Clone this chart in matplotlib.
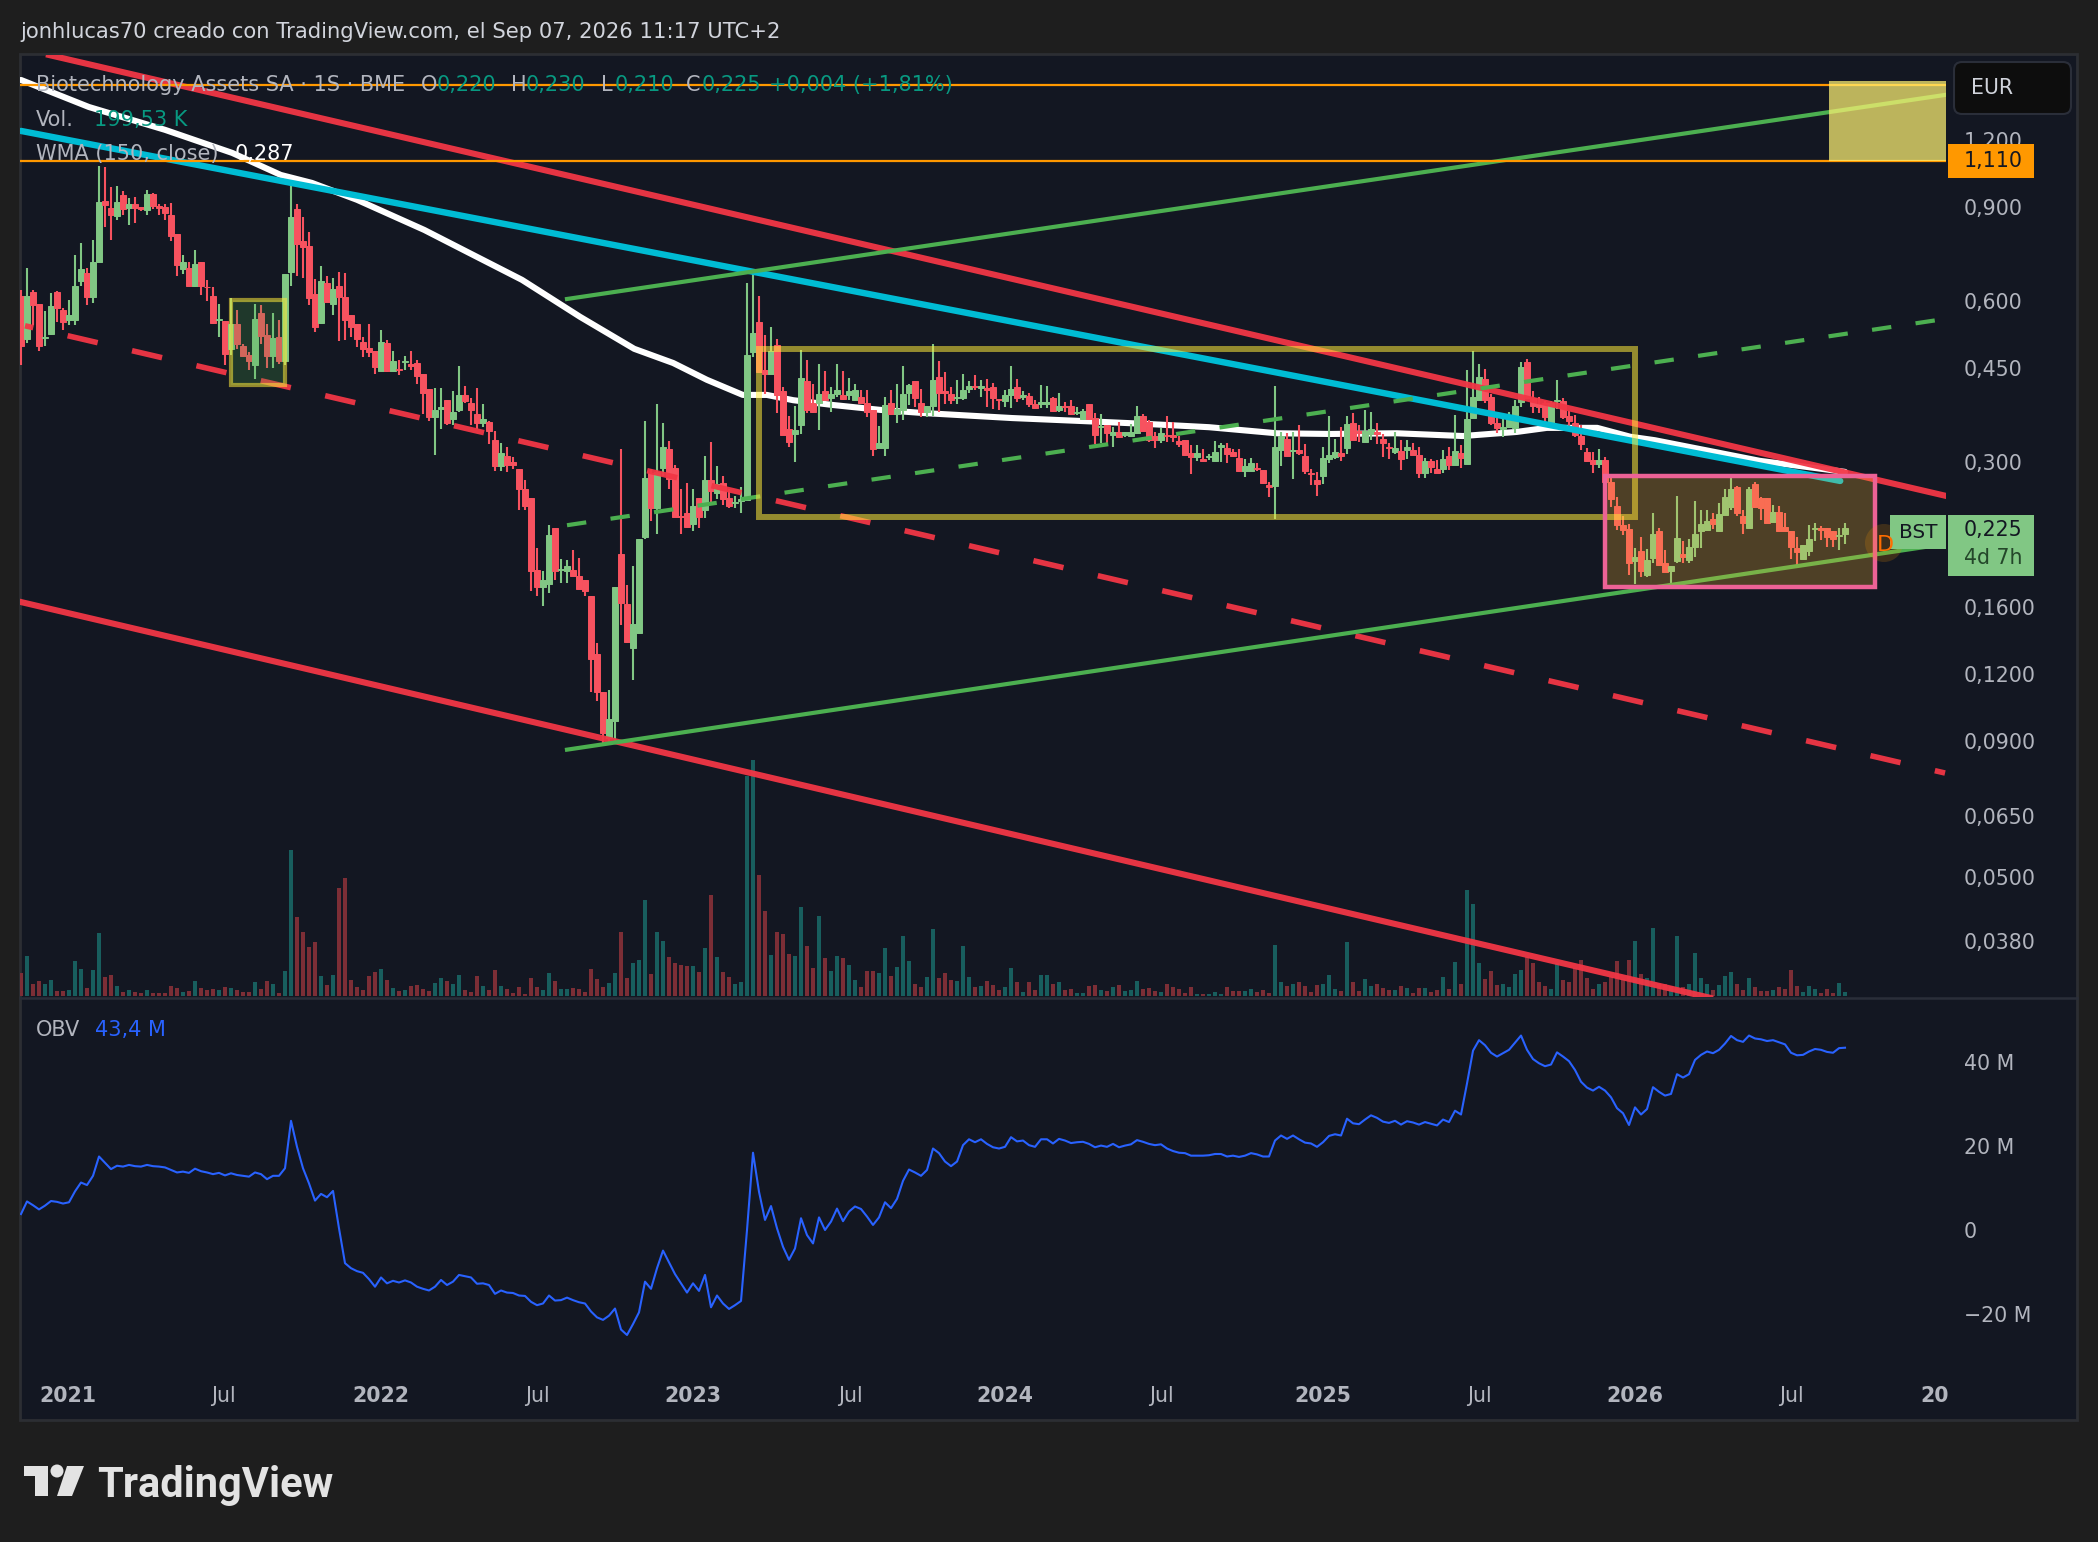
import matplotlib
matplotlib.use("Agg")
import matplotlib.pyplot as plt
import numpy as np
from matplotlib.patches import Rectangle, Polygon, Circle, FancyBboxPatch

plt.rcParams['font.family'] = ['DejaVu Sans']
plt.rcParams['lines.scale_dashes'] = False

#~~~~~~~~~~~~~~~~~~~~~~~~~~~~ WEEKLY CANDLES ~~~~~~~~~~~~~~~~~~~~~~~~~~~~
opens = [
    .612,.509,.623,.592,.512,.520,.623,.577,.553,.553,
    .655,.676,.611,.710,.924,.895,.865,.947,.895,.912,
    .898,.887,.952,.904,.898,.869,.801,.690,.692,.641,
    .710,.638,.612,.553,.551,.488,.544,.495,.476,.455,
    .569,.519,.474,.513,.464,.680,.890,.777,.760,.618,
    .546,.647,.592,.641,.611,.565,.544,.503,.489,.484,
    .444,.500,.444,.448,.461,.458,.460,.438,.410,.364,
    .376,.392,.361,.374,.400,.387,.368,.354,.356,.329,
    .294,.308,.299,.291,.266,.256,.188,.175,.177,.225,
    .188,.187,.188,.183,.180,.168,.131,.111,.091,.098,
    .201,.162,.134,.143,.217,.286,.246,.292,.317,.292,
    .237,.240,.229,.256,.244,.277,.262,.274,.256,.251,
    .253,.254,.482,.547,.445,.437,.496,.406,.345,.338,
    .351,.425,.386,.386,.406,.395,.402,.400,.399,.391,
    .396,.386,.375,.318,.318,.386,.369,.374,.404,.425,
    .387,.371,.382,.433,.406,.402,.394,.394,.410,.415,
    .412,.412,.414,.393,.390,.400,.414,.396,.398,.384,
    .384,.384,.394,.374,.381,.381,.370,.361,.385,.362,
    .348,.352,.336,.341,.337,.335,.340,.366,.356,.335,
    .329,.337,.337,.328,.329,.311,.306,.303,.306,.301,
    .320,.318,.313,.305,.288,.288,.292,.289,.271,.270,
    .315,.331,.314,.315,.307,.286,.277,.282,.304,.306,
    .311,.318,.355,.342,.326,.338,.341,.331,.320,.313,
    .314,.316,.316,.309,.286,.301,.291,.291,.307,.296,
    .312,.297,.362,.392,.429,.397,.355,.346,.348,.347,
    .388,.461,.395,.385,.387,.355,.389,.389,.365,.355,
    .335,.313,.302,.297,.302,.275,.248,.228,.224,.195,
    .204,.184,.198,.222,.194,.187,.195,.201,.196,.208,
    .222,.223,.234,.222,.238,.247,.269,.237,.225,.272,
    .256,.256,.231,.241,.226,.222,.207,.197,.204,.224,
    .225,.225,.222,.218,.220]
closes = [
    .493,.612,.589,.493,.514,.588,.583,.549,.565,.641,
    .688,.609,.710,.921,.908,.869,.919,.890,.910,.895,
    .891,.952,.904,.897,.878,.794,.701,.710,.641,.704,
    .641,.636,.546,.555,.478,.544,.499,.474,.464,.556,
    .515,.474,.511,.464,.675,.861,.767,.757,.608,.536,
    .655,.596,.632,.611,.553,.535,.509,.487,.482,.452,
    .503,.444,.464,.446,.464,.454,.434,.403,.364,.375,
    .380,.354,.371,.400,.390,.374,.354,.361,.342,.294,
    .312,.296,.296,.266,.248,.187,.175,.180,.219,.187,
    .189,.191,.183,.173,.172,.128,.111,.093,.099,.175,
    .163,.138,.149,.215,.279,.246,.287,.320,.278,.236,
    .236,.226,.248,.236,.277,.264,.272,.255,.248,.252,
    .255,.475,.523,.442,.437,.484,.400,.337,.326,.344,
    .430,.375,.372,.402,.391,.402,.408,.393,.406,.408,
    .387,.372,.317,.325,.383,.368,.377,.402,.418,.394,
    .371,.382,.426,.404,.403,.392,.396,.409,.416,.413,
    .416,.409,.395,.392,.400,.411,.394,.400,.384,.378,
    .388,.388,.373,.381,.379,.368,.372,.373,.361,.337,
    .350,.339,.341,.334,.341,.341,.365,.343,.330,.329,
    .340,.335,.334,.324,.309,.306,.311,.301,.308,.313,
    .322,.310,.308,.288,.294,.298,.290,.273,.269,.320,
    .335,.308,.316,.312,.288,.284,.272,.305,.309,.313,
    .308,.353,.330,.339,.343,.346,.338,.325,.318,.318,
    .304,.320,.309,.286,.301,.293,.286,.303,.296,.314,
    .305,.361,.397,.433,.392,.354,.347,.348,.362,.381,
    .452,.395,.381,.380,.363,.387,.392,.364,.358,.336,
    .323,.301,.297,.302,.275,.255,.228,.223,.194,.199,
    .187,.196,.220,.192,.186,.191,.216,.199,.208,.220,
    .229,.232,.229,.239,.257,.267,.240,.230,.267,.247,
    .246,.230,.241,.222,.222,.208,.203,.209,.215,.225,
    .223,.217,.215,.219,.225]
highs = [
    .630,.691,.630,.593,.575,.622,.626,.582,.603,.732,
    .770,.691,.781,1.073,1.068,.982,.985,.962,.934,.941,
    .901,.968,.957,.912,.912,.917,.801,.732,.711,.748,
    .710,.657,.636,.593,.551,.607,.578,.499,.481,.592,
    .589,.544,.569,.553,.675,1.011,.912,.861,.808,.660,
    .698,.668,.662,.680,.677,.565,.544,.513,.543,.484,
    .529,.508,.484,.466,.473,.484,.466,.438,.410,.412,
    .412,.392,.406,.454,.416,.394,.412,.385,.358,.343,
    .325,.319,.306,.291,.277,.256,.207,.187,.228,.225,
    .197,.196,.205,.198,.180,.168,.137,.111,.112,.175,
    .317,.176,.191,.215,.357,.291,.384,.354,.328,.296,
    .266,.274,.266,.256,.308,.326,.294,.282,.266,.259,
    .269,.647,.674,.613,.518,.535,.509,.413,.366,.381,
    .486,.465,.420,.458,.444,.413,.458,.444,.431,.420,
    .408,.408,.375,.350,.396,.408,.420,.454,.419,.425,
    .410,.382,.498,.463,.442,.413,.427,.438,.425,.436,
    .427,.428,.421,.393,.409,.454,.428,.406,.404,.392,
    .418,.415,.396,.404,.388,.392,.379,.377,.385,.370,
    .368,.351,.349,.356,.341,.353,.382,.368,.359,.341,
    .347,.366,.356,.335,.329,.322,.322,.317,.310,.328,
    .325,.325,.317,.317,.304,.305,.298,.289,.275,.416,
    .341,.339,.341,.351,.323,.291,.287,.319,.366,.331,
    .349,.366,.370,.351,.375,.372,.354,.338,.325,.341,
    .330,.330,.325,.319,.305,.303,.302,.316,.320,.367,
    .322,.445,.483,.458,.447,.401,.372,.367,.372,.392,
    .462,.468,.407,.397,.389,.389,.427,.395,.373,.367,
    .351,.318,.313,.317,.306,.281,.257,.237,.229,.207,
    .217,.206,.240,.225,.205,.191,.259,.213,.215,.253,
    .244,.243,.240,.251,.267,.282,.270,.244,.269,.275,
    .257,.256,.249,.248,.240,.222,.217,.209,.228,.230,
    .227,.225,.222,.225,.230]
lows = [
    .456,.500,.541,.483,.494,.519,.549,.530,.541,.541,
    .640,.589,.595,.710,.826,.781,.851,.869,.833,.839,
    .886,.869,.890,.869,.851,.777,.668,.675,.640,.636,
    .615,.601,.544,.514,.456,.476,.488,.472,.446,.428,
    .499,.449,.450,.458,.456,.641,.667,.661,.589,.525,
    .544,.596,.565,.505,.507,.513,.492,.472,.472,.438,
    .444,.441,.444,.436,.445,.445,.419,.368,.358,.309,
    .345,.352,.352,.372,.387,.351,.345,.348,.323,.288,
    .288,.287,.291,.244,.244,.172,.168,.161,.170,.180,
    .178,.178,.183,.173,.168,.111,.107,.089,.089,.090,
    .148,.137,.117,.143,.215,.232,.220,.282,.267,.236,
    .220,.226,.222,.225,.235,.249,.255,.249,.246,.246,
    .240,.254,.472,.440,.402,.437,.370,.337,.319,.300,
    .338,.370,.370,.344,.389,.372,.397,.391,.391,.389,
    .387,.364,.308,.318,.307,.367,.354,.359,.383,.380,
    .364,.364,.366,.371,.385,.384,.385,.392,.403,.408,
    .396,.379,.377,.375,.380,.378,.388,.392,.380,.377,
    .378,.378,.371,.371,.371,.367,.367,.360,.360,.323,
    .325,.325,.320,.332,.333,.333,.338,.342,.326,.318,
    .325,.327,.327,.320,.308,.284,.301,.300,.302,.301,
    .300,.298,.306,.287,.281,.288,.288,.272,.258,.234,
    .294,.307,.278,.309,.284,.271,.259,.272,.298,.303,
    .301,.310,.330,.327,.326,.329,.323,.306,.303,.310,
    .289,.304,.309,.280,.279,.286,.286,.286,.289,.296,
    .292,.297,.362,.391,.386,.352,.339,.333,.347,.340,
    .379,.393,.370,.370,.354,.354,.376,.361,.345,.334,
    .315,.299,.286,.292,.273,.247,.223,.219,.184,.177,
    .182,.182,.194,.191,.186,.177,.194,.194,.194,.199,
    .207,.223,.224,.222,.238,.243,.237,.220,.225,.246,
    .233,.230,.231,.222,.222,.197,.192,.197,.200,.213,
    .214,.208,.208,.205,.210]

# volume in thousands
volumes = [
    1150,2000,600,750,600,800,250,250,300,1750,
    1350,400,1300,3150,950,1050,500,200,300,200,
    150,300,150,150,150,500,400,200,250,750,
    400,300,350,300,450,400,300,200,200,700,
    350,750,600,150,1250,7300,3950,3200,2450,2700,
    1000,550,1050,5400,5900,800,450,300,1000,1200,
    1350,800,400,250,300,500,550,350,250,650,
    900,750,600,1050,300,200,1000,500,300,1300,
    500,350,150,450,100,900,450,300,1150,750,
    350,350,400,350,200,1350,850,450,650,1150,
    3200,900,1650,1800,4800,1100,3200,2750,1950,1650,
    1550,1500,1500,1200,2400,5050,1950,1200,950,600,
    700,11000,11800,6050,4250,2050,3200,3100,2100,2000,
    4450,2500,1400,4000,1900,1250,2000,1900,1550,800,
    450,1250,1250,1150,2400,1000,1450,3000,1750,600,
    450,950,3350,900,1150,800,750,2500,950,450,
    500,750,550,300,450,1400,700,200,700,300,
    1050,1050,600,700,300,350,150,150,500,550,
    300,250,450,550,250,300,750,350,400,250,
    200,600,450,350,150,450,100,100,100,200,
    100,450,250,250,250,350,200,300,150,2550,
    700,500,600,700,500,200,550,600,1050,350,
    250,2700,700,250,850,500,600,400,300,300,
    500,400,150,400,400,200,300,950,350,1700,
    600,5300,4600,1650,850,1250,550,600,450,1100,
    1300,1950,1650,700,500,350,1650,800,700,1380,
    1800,900,350,600,700,950,1750,850,1800,2750,
    1080,880,3400,600,600,500,3000,470,600,2150,
    900,600,300,550,1000,1200,600,300,900,450,
    250,250,300,450,350,1300,500,200,500,350,
    150,350,150,650,200]

# on balance volume, millions
obv = [
    3.8,6.8,5.9,4.9,5.8,6.9,6.7,6.3,6.6,9.2,
    11.3,10.7,12.9,17.5,16.0,14.5,15.3,15.1,15.5,15.2,
    15.1,15.5,15.2,15.1,14.9,14.3,13.7,13.9,13.6,14.6,
    14.0,13.7,13.3,13.6,13.0,13.5,13.1,12.9,12.7,13.7,
    13.3,12.1,12.9,12.9,14.7,26.0,19.8,14.7,11.1,7.0,
    8.6,7.8,9.3,0.4,-7.9,-9.1,-9.8,-10.2,-11.7,-13.5,
    -11.3,-12.7,-12.1,-12.5,-12.0,-12.5,-13.5,-14.0,-14.4,-13.5,
    -11.9,-13.1,-12.3,-10.7,-11.0,-11.3,-12.8,-12.7,-13.1,-15.2,
    -14.4,-14.9,-15.0,-15.6,-15.7,-17.1,-17.9,-17.5,-15.6,-16.8,
    -16.7,-16.1,-16.7,-17.2,-17.5,-19.4,-20.8,-21.4,-20.4,-18.7,
    -23.7,-25.0,-22.4,-19.6,-12.3,-14.0,-9.1,-4.9,-7.7,-10.5,
    -12.7,-14.9,-12.7,-14.5,-10.7,-18.4,-15.6,-17.5,-18.8,-17.9,
    -16.9,0.0,18.4,9.1,2.4,5.7,0.4,-4.0,-7.1,-4.4,
    2.8,-1.2,-3.2,3.0,0.0,2.0,5.1,2.1,4.4,5.6,
    5.0,3.2,1.2,3.0,6.6,5.2,7.4,11.7,14.4,13.7,
    12.9,14.3,19.4,18.3,16.3,15.2,16.3,20.2,21.6,20.9,
    21.6,20.5,19.7,19.4,19.8,22.1,21.1,21.3,20.2,19.8,
    21.6,21.6,20.6,21.7,21.3,20.7,20.9,21.0,20.5,19.7,
    20.1,19.8,20.5,19.7,20.1,20.4,21.4,21.0,20.5,20.2,
    20.4,19.4,18.8,18.4,18.3,17.7,17.7,17.7,17.8,18.1,
    18.1,17.5,17.7,17.4,17.7,18.3,18.0,17.5,17.5,21.3,
    22.5,21.7,22.5,21.6,20.8,20.6,19.8,20.9,22.4,22.8,
    22.5,26.5,25.4,25.2,26.3,27.3,26.7,25.8,25.5,26.0,
    25.1,25.9,25.6,25.1,25.7,25.3,24.9,26.3,25.7,28.4,
    27.5,34.9,42.7,45.2,44.0,42.2,41.3,42.1,42.9,44.6,
    46.3,42.9,40.7,39.7,39.0,39.4,42.3,41.3,40.2,38.1,
    35.3,33.9,33.2,34.1,33.2,31.6,29.0,27.8,25.0,29.2,
    27.5,28.8,34.0,32.9,32.0,32.4,37.1,36.3,37.1,40.5,
    41.7,42.5,42.1,42.9,44.4,46.2,45.2,44.8,46.3,45.6,
    45.4,45.0,45.2,44.7,44.2,42.2,41.6,41.7,42.5,43.1,
    42.9,42.4,42.2,43.3,43.4]

# WMA (150) read at the bends of the curve
wma_bars = [0,11.3,24,35.2,43.3,48.5,56,67.2,74.7,83.5,93.2,102.2,108.7,114.3,120.3,124.3,
            128.7,135.3,143.2,150.3,165.2,177.8,187.5,198,209.3,218.2,229.3,240.3,249.3,
            254.3,262.7,268.2,272.3,289.8,304]
wma_vals = [1.556,1.385,1.255,1.136,1.033,.998,.928,.815,.738,.657,.560,.488,.459,.427,.400,.400,
            .391,.383,.375,.370,.362,.357,.353,.348,.339,.338,.339,.335,.341,
            .347,.347,.334,.329,.301,.287]

# ticks
price_ticks = [1.2,.9,.6,.45,.3,.16,.12,.09,.065,.05,.038]
price_labels = ['1,200','0,900','0,600','0,450','0,300','0,1600','0,1200','0,0900','0,0650','0,0500','0,0380']
obv_ticks = [40,20,0,-20]
obv_labels = ['40 M','20 M','0','−20 M']
time_ticks = [7.83,33.7,60,86,112,138.2,164,190,217,243,269,295,319]
time_labels = ['2021','Jul','2022','Jul','2023','Jul','2024','Jul','2025','Jul','2026','Jul','20']

# drawn lines: (bars), (prices)
red_upper = ([4.67,320.67],[1.733,.259])
red_lower = ([0,281.5],[.1637,.0297])
red_mid = ([.67,320.67],[.539,.0783])
blue_line = ([0,303.2],[1.249,.276])
green_upper = ([91,320.7],[.605,1.459])
green_lower = ([91,320.7],[.0866,.2103])
green_mid = ([91,319.2],[.228,.552])
level_top = 1.522
level_low = 1.098

BG = '#1e1e1e'
PANE = '#131722'
BORDER = '#2c2e33'
UP = '#81c784'
DOWN = '#f7525f'
VOL_UP = '#185e5e'
VOL_DOWN = '#7c2e36'
TXT = '#b2b5be'
TEAL = '#089981'
RED_LINE = '#f23645'
GREEN_LINE = '#4caf50'
W, H = 2098, 1542


def px_axes(left, top, width, height, **kw):
    return fig.add_axes([left/W, 1-(top+height)/H, width/W, height/H], **kw)


fig = plt.figure(figsize=(W/100, H/100), dpi=100, facecolor=BG)

# background pane
back = px_axes(0, 0, W, H, zorder=0)
back.set_xlim(0, W)
back.set_ylim(H, 0)
back.axis('off')
back.add_patch(Rectangle((20, 54), 2057, 1366, facecolor=PANE, edgecolor=BORDER, lw=2))

x = np.arange(len(opens))
xlim = (-0.167, 320.83)
opens, closes, highs, lows = map(np.array, (opens, closes, highs, lows))
rising = closes >= opens

# volume sits under the price pane
ax_vol = px_axes(20, 55, 1926, 942, zorder=1)
ax_vol.patch.set_visible(False)
ax_vol.bar(x, volumes, width=.66, color=np.where(rising, VOL_UP, VOL_DOWN), linewidth=0)
ax_vol.set_xlim(xlim)
ax_vol.set_ylim(-50, 47050)
ax_vol.axis('off')

ax = px_axes(20, 55, 1926, 942, zorder=2)
ax.patch.set_visible(False)
ax.set_yscale('log')
ax.set_xlim(xlim)
ax.set_ylim(.0298, 1.733)

ax.plot(wma_bars, wma_vals, color='white', lw=4.4, zorder=2, solid_capstyle='round', solid_joinstyle='round')

colors = np.where(rising, UP, DOWN)
ax.vlines(x, lows, highs, colors=colors, lw=1.5, zorder=3)
ax.bar(x, np.abs(closes-opens), bottom=np.minimum(opens, closes), width=.85,
       color=colors, edgecolor=colors, lw=.7, zorder=3)

# trend lines
ax.plot(*red_upper, color=RED_LINE, lw=4.4, zorder=4, alpha=.95)
ax.plot(*red_lower, color=RED_LINE, lw=4.4, zorder=4, alpha=.95)
ax.plot(*red_mid, color=RED_LINE, lw=4.0, zorder=4, alpha=.95, linestyle=(16.1, (22.2, 25.4)), dash_capstyle='butt')
ax.plot(*blue_line, color='#00bcd4', lw=4.6, zorder=4, solid_capstyle='round')
ax.plot(*green_upper, color=GREEN_LINE, lw=3.0, zorder=4)
ax.plot(*green_lower, color=GREEN_LINE, lw=3.0, zorder=4)
ax.plot(*green_mid, color=GREEN_LINE, lw=3.0, zorder=4, linestyle=(0, (14, 17.67)), dash_capstyle='butt')
ax.plot(xlim, [level_top]*2, color='#ff9800', lw=1.6, zorder=4)
ax.plot(xlim, [level_low]*2, color='#ff9800', lw=1.6, zorder=4)

# boxes
ax.add_patch(Rectangle((301.33, 1.098), 19.5, .452, facecolor=(1, .95, .45), alpha=.72, lw=0, zorder=5))
ax.add_patch(Rectangle((123, .2362), 146, .4876-.2362, fill=False, edgecolor=(1, .92, .23, .55), lw=4.3, zorder=5))
ax.add_patch(Rectangle((35, .417), 9, .603-.417, facecolor=(.3, .69, .31, .22), edgecolor=(1, .92, .23, .55), lw=3, zorder=5))
ax.add_patch(Rectangle((264, .1746), 45, .2825-.1746, facecolor=(1, .745, .196, .25), edgecolor='#ec6296', lw=3.2, zorder=5))

ax.yaxis.tick_right()
ax.set_yticks(price_ticks, price_labels)
ax.minorticks_off()
ax.tick_params(axis='y', length=0, pad=13, labelsize=14.8, labelcolor=TXT, which='both')
ax.set_xticks([])
for s in ax.spines.values():
    s.set_visible(False)

# OBV pane, its bottom strip holds the time scale
ax2 = px_axes(20, 998, 1926, 422, zorder=2)
ax2.patch.set_visible(False)
ax2.plot(x, obv, color='#2962ff', lw=1.5)
ax2.set_xlim(xlim)
ax2.set_ylim(-45.24, 55.24)
ax2.yaxis.tick_right()
ax2.set_yticks(obv_ticks, obv_labels)
ax2.set_xticks(time_ticks, time_labels)
ax2.tick_params(axis='y', length=0, pad=13, labelsize=14.8, labelcolor=TXT)
ax2.tick_params(axis='x', length=0, pad=-24.4, labelsize=14.8, labelcolor=TXT)
for lab, t in zip(ax2.get_xticklabels(), time_labels):
    if t != 'Jul':
        lab.set_fontweight('bold')
for s in ax2.spines.values():
    s.set_visible(False)

# overlay for legends, price tags, title and logo
top = px_axes(0, 0, W, H, zorder=5)
top.set_xlim(0, W)
top.set_ylim(H, 0)
top.axis('off')
top.plot([20, 2077], [998, 998], color='#2a2e39', lw=1.8)


def label(px, py, s, color=TXT, size=15, **kw):
    top.text(px, py, s, color=color, fontsize=size, va='center', ha=kw.pop('ha', 'left'), **kw)


label(20, 32, 'jonhlucas70 creado con TradingView.com, el Sep 07, 2026 11:17 UTC+2', color='#d1d4dc', size=15.2)
label(36, 85, 'Biotechnology Assets SA · 1S · BME')
for px, letter in [(421, 'O'), (511, 'H'), (601, 'L'), (686, 'C')]:
    label(px, 85, letter)
for px, val in [(437, '0,220'), (526, '0,230'), (615, '0,210'), (702, '0,225'), (769, '+0,004 (+1,81%)')]:
    label(px, 85, val, color=TEAL)
label(36, 120, 'Vol.')
label(94, 120, '199,53 K', color=TEAL)
label(36, 154, 'WMA (150, close)')
label(235, 154, '0,287', color='white')
label(36, 1030, 'OBV')
label(95, 1030, '43,4 M', color='#2962ff')

# EUR button
top.add_patch(FancyBboxPatch((1958, 66), 109, 44, boxstyle='round,pad=4,rounding_size=8',
                             facecolor='#0d0d0d', edgecolor='#2a2e39', lw=1.5))
label(1971, 88, 'EUR', color='#d1d4dc', size=14.8)

# price tags
top.add_patch(Circle((1884, 543), 19, facecolor='#ff9800', alpha=.18, lw=0))
label(1877, 545, 'D', color='#ff6d00', size=16)
top.add_patch(Rectangle((1948, 144), 86, 34, facecolor='#ff9800', lw=0))
label(1964, 161, '1,110', color='#131722', size=14.8)
top.add_patch(Rectangle((1890, 515), 56, 34, facecolor=UP, lw=0))
label(1899, 532, 'BST', color='#131722', size=14.4)
top.add_patch(Rectangle((1948, 515), 86, 61, facecolor=UP, lw=0))
label(1964, 530, '0,225', color='#131722', size=14.8)
label(1964, 558, '4d 7h', color='#24472a', size=14.8)

# TradingView logo
logo = '#e3e3e3'
top.add_patch(Polygon([(24, 1466), (48, 1466), (48, 1496), (35, 1496), (35, 1476), (24, 1476)], facecolor=logo, lw=0))
top.add_patch(Circle((57, 1471), 6.5, facecolor=logo, lw=0))
top.add_patch(Polygon([(67, 1466), (84, 1466), (72, 1496), (57, 1496)], facecolor=logo, lw=0))
top.text(97, 1485, 'TradingView', color=logo, fontsize=30, family='Roboto', fontweight='bold', va='center', ha='left')

fig.savefig('out.png', dpi=100, facecolor=BG)
